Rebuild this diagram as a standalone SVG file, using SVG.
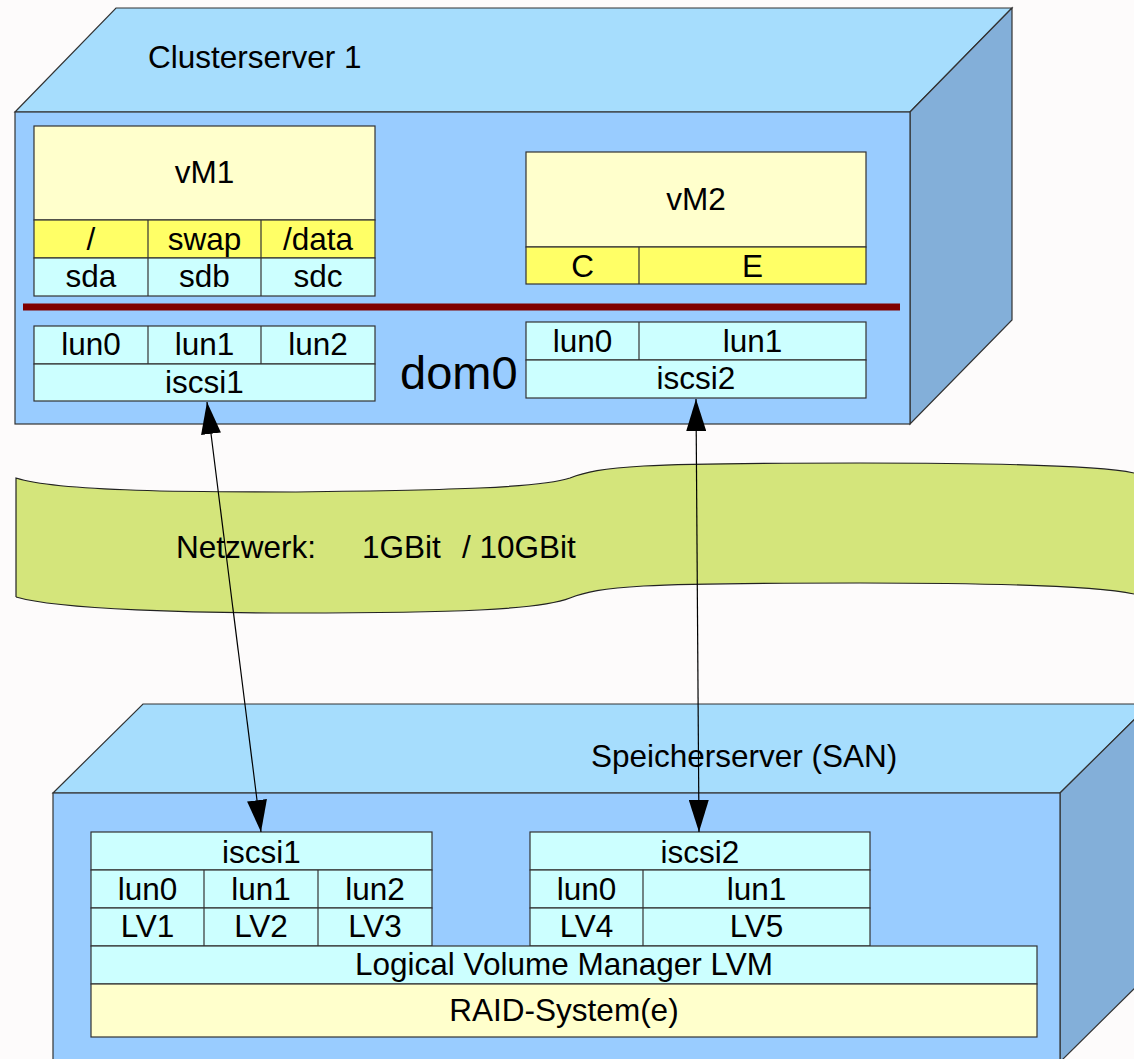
<svg xmlns="http://www.w3.org/2000/svg" width="1134" height="1059" viewBox="0 0 1134 1059">
<defs>
<style>
text{font-family:"Liberation Sans",Arial,sans-serif;fill:#000}
.c{text-anchor:middle;font-size:31.5px}
.t{font-size:31.5px}
.top{fill:#a6ddfd;stroke:#333;stroke-width:1.2}
.front{fill:#99ccff;stroke:#333;stroke-width:1.2}
.side{fill:#83afd9;stroke:#333;stroke-width:1.2}
.ly{fill:#ffffcc;stroke:#333;stroke-width:1.2}
.y{fill:#ffff66;stroke:#333;stroke-width:1.2}
.cy{fill:#ccffff;stroke:#333;stroke-width:1.2}
.ln{stroke:#333;stroke-width:1.2}
.conn{stroke:#000;stroke-width:1.2;fill:none;marker-start:url(#ah);marker-end:url(#ah)}
</style>
<marker id="ah" viewBox="0 0 32 20" refX="32" refY="10" markerWidth="32" markerHeight="20" markerUnits="userSpaceOnUse" orient="auto-start-reverse">
<path d="M0,0 L32,10 L0,20 z" fill="#000"/>
</marker>
</defs>
<rect width="1134" height="1059" fill="#fdfbfb"/>

<g id="clusterserver">
<polygon class="top" points="15,112 116,8 1012,8 910,112"/>
<polygon class="side" points="910,112 1012,8 1012,320 910,424"/>
<rect class="front" x="15" y="112" width="895" height="312"/>
<text class="t" x="148" y="68">Clusterserver 1</text>
<line x1="23" y1="307" x2="900" y2="307" stroke="#800000" stroke-width="7"/>
<text x="400" y="389" font-size="47">dom0</text>
</g>

<g id="vm1">
<rect class="ly" x="34" y="126" width="341" height="94"/>
<rect class="y" x="34" y="220" width="341" height="38"/>
<rect class="cy" x="34" y="258" width="341" height="38"/>
<line class="ln" x1="148" y1="220" x2="148" y2="296"/>
<line class="ln" x1="261" y1="220" x2="261" y2="296"/>
<text class="c" x="204.5" y="183">vM1</text>
<text class="c" x="91" y="250">/</text>
<text class="c" x="204.5" y="250">swap</text>
<text class="c" x="318" y="250">/data</text>
<text class="c" x="91" y="287">sda</text>
<text class="c" x="204.5" y="287">sdb</text>
<text class="c" x="318" y="287">sdc</text>
</g>

<g id="vm2">
<rect class="ly" x="526" y="152" width="340" height="95"/>
<rect class="y" x="526" y="247" width="340" height="37"/>
<line class="ln" x1="639" y1="247" x2="639" y2="284"/>
<text class="c" x="696" y="210">vM2</text>
<text class="c" x="582.5" y="277">C</text>
<text class="c" x="752.5" y="277">E</text>
</g>

<g id="dom0-iscsi1">
<rect class="cy" x="34" y="326" width="341" height="38"/>
<rect class="cy" x="34" y="364" width="341" height="37"/>
<line class="ln" x1="148" y1="326" x2="148" y2="364"/>
<line class="ln" x1="261" y1="326" x2="261" y2="364"/>
<text class="c" x="91" y="355">lun0</text>
<text class="c" x="204.5" y="355">lun1</text>
<text class="c" x="318" y="355">lun2</text>
<text class="c" x="204.5" y="393">iscsi1</text>
</g>

<g id="dom0-iscsi2">
<rect class="cy" x="526" y="322" width="340" height="38"/>
<rect class="cy" x="526" y="360" width="340" height="38"/>
<line class="ln" x1="639" y1="322" x2="639" y2="360"/>
<text class="c" x="582.5" y="352">lun0</text>
<text class="c" x="752.5" y="352">lun1</text>
<text class="c" x="696" y="389">iscsi2</text>
</g>

<g id="speicherserver">
<polygon class="top" points="53,793 143,704 1150,704 1060,793"/>
<polygon class="side" points="1060,793 1150,704 1150,973 1060,1062"/>
<rect class="front" x="53" y="793" width="1007" height="270"/>
<text class="t" x="591" y="767">Speicherserver (SAN)</text>
</g>

<g id="san-iscsi1">
<rect class="cy" x="91" y="832" width="341" height="38"/>
<rect class="cy" x="91" y="870" width="341" height="38"/>
<rect class="cy" x="91" y="908" width="341" height="38"/>
<line class="ln" x1="204" y1="870" x2="204" y2="946"/>
<line class="ln" x1="318" y1="870" x2="318" y2="946"/>
<text class="c" x="261.5" y="863">iscsi1</text>
<text class="c" x="147.5" y="900">lun0</text>
<text class="c" x="261" y="900">lun1</text>
<text class="c" x="375" y="900">lun2</text>
<text class="c" x="147.5" y="937">LV1</text>
<text class="c" x="261" y="937">LV2</text>
<text class="c" x="375" y="937">LV3</text>
</g>

<g id="san-iscsi2">
<rect class="cy" x="530" y="832" width="340" height="38"/>
<rect class="cy" x="530" y="870" width="340" height="38"/>
<rect class="cy" x="530" y="908" width="340" height="38"/>
<line class="ln" x1="643" y1="870" x2="643" y2="946"/>
<text class="c" x="700" y="863">iscsi2</text>
<text class="c" x="586.5" y="900">lun0</text>
<text class="c" x="756.5" y="900">lun1</text>
<text class="c" x="586.5" y="937">LV4</text>
<text class="c" x="756.5" y="937">LV5</text>
</g>

<g id="lvm">
<rect class="cy" x="91" y="946" width="946" height="38"/>
<text class="c" x="564" y="975">Logical Volume Manager LVM</text>
</g>

<g id="raid">
<rect class="ly" x="91" y="984" width="946" height="53"/>
<text class="c" x="564" y="1021">RAID-System(e)</text>
</g>

<g id="netzwerk">
<path d="M16,478 C60,492 200,492 296,492 C450,490 540,488 570,478 C600,466 640,463 860,463 C1000,463 1100,466 1134,473 L1134,594 C1100,587 1000,583 860,583 C640,583 600,586 570,598 C540,610 450,613 296,613 C200,613 60,610 16,597 Z" fill="#d4e57b" stroke="none"/>
<path d="M16,597 L16,478 C60,492 200,492 296,492 C450,490 540,488 570,478 C600,466 640,463 860,463 C1000,463 1100,466 1134,473" fill="none" stroke="#222" stroke-width="1.2"/>
<path d="M16,597 C60,610 200,613 296,613 C450,613 540,610 570,598 C600,586 640,583 860,583 C1000,583 1100,587 1134,594" fill="none" stroke="#222" stroke-width="1.2"/>
<text class="t" x="176" y="558">Netzwerk:</text>
<text class="t" x="362" y="558">1GBit</text>
<text class="t" x="462" y="558">/ 10GBit</text>
</g>

<g id="connectors">
<line class="conn" x1="207" y1="402" x2="261" y2="832"/>
<line class="conn" x1="696" y1="399" x2="699" y2="832"/>
</g>
</svg>
